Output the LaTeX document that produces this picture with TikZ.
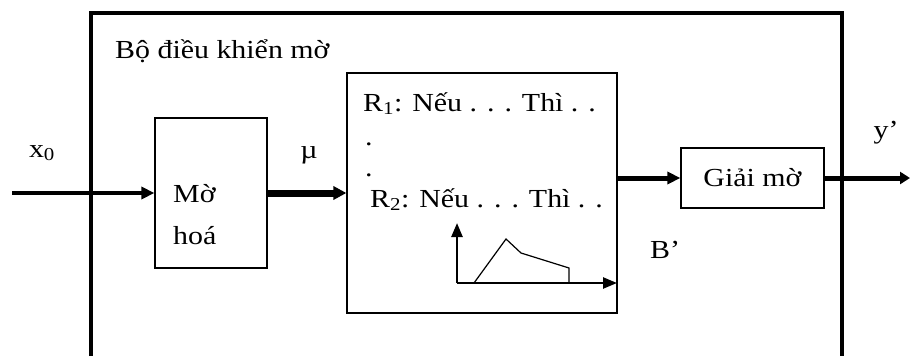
\documentclass[tikz,border=0pt]{standalone}
\usepackage{fontspec}
\setmainfont{Liberation Serif}[FakeStretch=1.15]
\usepackage{tikz}
\usetikzlibrary{arrows.meta}

\begin{document}
\begin{tikzpicture}[x=1pt,y=-1pt,font=\fontsize{26}{30}\selectfont]
\useasboundingbox (0,0) rectangle (910,356);
% controller frame, open at the bottom
\draw[line width=4pt] (91,356) -- (91,13) -- (842,13) -- (842,356);
\node[anchor=base west,inner sep=0pt] (title) at (115,58) {Bộ điều khiển mờ};
% blocks
\node[draw,line width=1.2pt,minimum width=112,minimum height=150] (fuzz) at (211,193) {};
\node[anchor=west,align=left,inner sep=0pt] (fuzztxt) at (173,215) {Mờ\\[12pt]hoá};
\node[draw,line width=1.2pt,minimum width=270,minimum height=240] (rules) at (482,193) {};
\node[draw,line width=1.2pt,minimum width=143,minimum height=60] (defuzz) at (752.5,178) {Giải mờ};
% rule base
\node[anchor=base west,inner sep=0pt] (r1) at (363,111) {R\textsubscript{1}: Nếu . . . Thì . .};
\node[anchor=base west,inner sep=0pt] (d1) at (365,145) {.};
\node[anchor=base west,inner sep=0pt] (d2) at (365,176) {.};
\node[anchor=base west,inner sep=0pt] (r2) at (370,207) {R\textsubscript{2}: Nếu . . . Thì . .};
% output set sketch
\coordinate (o) at (457,283);
\draw[line width=2.5pt,-{Triangle[length=14pt,width=11pt]}] (o) -- (457,223);
\draw[line width=2.5pt,-{Triangle[length=14pt,width=11pt]}] (o) -- (617,283);
\draw[line width=1.2pt] (474,283) -- (506,239) -- (521,253) -- (569,268) -- (569,283);
% signals
\coordinate (xin) at (12,193);
\coordinate (yout) at (910,178);
\draw[line width=4pt,-{Triangle[length=13pt,width=12pt]}] (xin) -- (fuzz.west);
\draw[line width=7pt,-{Triangle[length=13pt,width=13pt]}] (fuzz.east) -- (rules.west);
\draw[line width=5pt,-{Triangle[length=13pt,width=12pt]}] (rules.east |- defuzz.west) -- (defuzz.west);
\draw[line width=5pt,-{Triangle[length=10pt,width=12pt]}] (defuzz.east) -- (yout);
\node (x0) at (42,153) {x\textsubscript{0}};
\node (mu) at (309,155) {µ};
\node (yp) at (886,133) {y’};
\node (bp) at (665,250) {B’};
\end{tikzpicture}
\end{document}
